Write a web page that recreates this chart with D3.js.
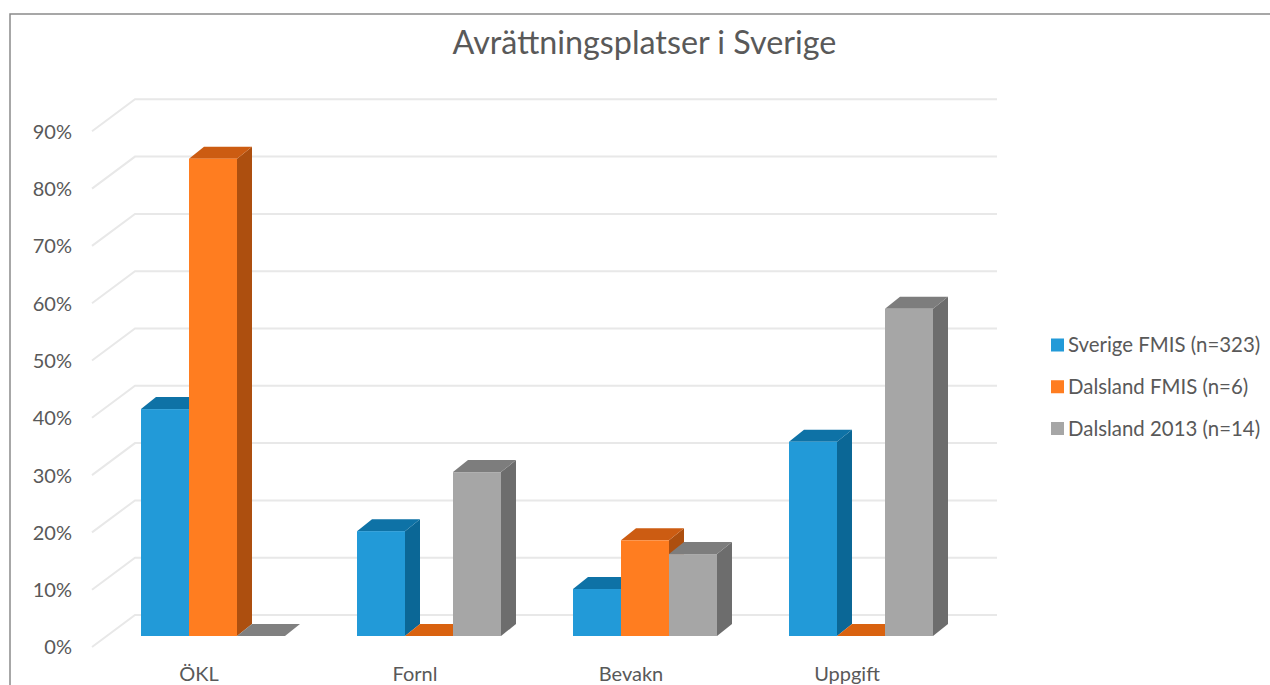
<!DOCTYPE html>
<html>
<head>
<meta charset="utf-8">
<script src="https://cdn.jsdelivr.net/npm/d3@7"></script>
<style>
  html, body { margin: 0; padding: 0; background: #fff; }
  svg { display: block; font-family: Lato, "Open Sans", sans-serif; }
</style>
</head>
<body>
<svg id="chart" width="1270" height="685"></svg>
<script>
const chartTitle = "Avrättningsplatser i Sverige";
const categories = ["ÖKL", "Fornl", "Bevakn", "Uppgift"];
const seriesNames = ["Sverige FMIS (n=323)", "Dalsland FMIS (n=6)", "Dalsland 2013 (n=14)"];
const sverigeFmis = [0.396, 0.183, 0.082, 0.339];
const dalslandFmis = [0.833, 0, 0.167, 0];
const dalsland2013 = [0, 0.286, 0.143, 0.571];
const tickValues = [0, 0.1, 0.2, 0.3, 0.4, 0.5, 0.6, 0.7, 0.8, 0.9];

const seriesValues = [sverigeFmis, dalslandFmis, dalsland2013];
const faceColors = [
  { front: "#229ad8", top: "#0e72a6", flat: "#0e72a6", side: "#0b6796" },
  { front: "#ff7d20", top: "#cc5c12", flat: "#d9620f", side: "#ad4f0f" },
  { front: "#a6a6a6", top: "#7d7d7d", flat: "#808080", side: "#6d6d6d" }
];

const svg = d3.select("#chart");

// Box depth of the bars and of the floor, as screen offsets.
const barDepth = { x: 15, y: -12 };
const wallDepth = { x: 43, y: -32 };
const unitHeight = 573; // pixels for 100 %

// One vertical scale per plane of the 3D scene.
const makeY = base => d3.scaleLinear().domain([0, 1]).range([base, base - unitHeight]);
const yBars = makeY(636);
const yWallFront = makeY(647);

const x0 = d3.scaleBand()
  .domain(categories)
  .range([105, 969])
  .paddingInner(1 / 3)
  .paddingOuter(1 / 6);
const x1 = d3.scaleBand()
  .domain(d3.range(seriesNames.length))
  .range([0, x0.bandwidth()]);

// Chart frame: the right and bottom edges run off the page.
svg.append("path")
  .attr("d", d3.line()([[10, 685], [10, 14], [1270, 14]]))
  .attr("fill", "none")
  .attr("stroke", "#8a8a8a")
  .attr("stroke-width", 1.5);

svg.append("text")
  .attr("x", 644.5)
  .attr("y", 54)
  .attr("text-anchor", "middle")
  .attr("font-size", 32.3)
  .attr("fill", "#595959")
  .text(chartTitle);

// Gridlines: a slanted piece on the side wall and a long one on the back wall.
const gridG = svg.append("g")
  .attr("fill", "none")
  .attr("stroke", "#e8e8e8")
  .attr("stroke-width", 2);
gridG.selectAll("path")
  .data(tickValues)
  .join("path")
  .attr("d", v => {
    const yw = yWallFront(v);
    return d3.line()([
      [92, yw],
      [92 + wallDepth.x, yw + wallDepth.y],
      [997, yw + wallDepth.y]
    ]);
  });

// Value axis
const yAxis = d3.axisLeft(yWallFront)
  .tickValues(tickValues)
  .tickFormat(d3.format(".0%"))
  .tickSize(0)
  .tickPadding(0);
const yAxisG = svg.append("g")
  .attr("transform", "translate(72,0.5)")
  .call(yAxis);
yAxisG.select(".domain").remove();
yAxisG.selectAll("text")
  .attr("font-size", 20)
  .attr("font-family", "Lato, sans-serif")
  .attr("fill", "#595959");

// Category axis
const xAxis = d3.axisBottom(x0).tickSize(0).tickPadding(0);
const xAxisG = svg.append("g")
  .attr("transform", "translate(-14,667)")
  .call(xAxis);
xAxisG.select(".domain").remove();
xAxisG.selectAll("text")
  .attr("font-size", 20)
  .attr("font-family", "Lato, sans-serif")
  .attr("fill", "#595959");

// Bars: series by series so later boxes overlap the earlier ones.
const bars = svg.append("g");
seriesValues.forEach((values, s) => {
  const colors = faceColors[s];
  const g = bars.append("g");
  categories.forEach((cat, c) => {
    const v = values[c];
    const xl = x0(cat) + x1(s);
    const xr = xl + x1.bandwidth();
    const yb = yBars(0);
    const yt = yBars(v);
    const dx = barDepth.x, dy = barDepth.y;
    const poly = pts => d3.line()(pts) + "Z";
    if (v > 0) {
      g.append("path")
        .attr("d", poly([[xr, yt], [xr + dx, yt + dy], [xr + dx, yb + dy], [xr, yb]]))
        .attr("fill", colors.side);
    }
    g.append("path")
      .attr("d", poly([[xl, yt], [xl + dx, yt + dy], [xr + dx, yt + dy], [xr, yt]]))
      .attr("fill", v > 0 ? colors.top : colors.flat);
    if (v > 0) {
      g.append("rect")
        .attr("x", xl)
        .attr("y", yt)
        .attr("width", xr - xl)
        .attr("height", yb - yt)
        .attr("fill", colors.front);
    }
  });
});

// Legend
const legendY = d3.scalePoint()
  .domain(seriesNames)
  .range([345, 428.5]);
const legend = svg.append("g");
const legendItems = legend.selectAll("g")
  .data(seriesNames)
  .join("g")
  .attr("transform", d => `translate(1051,${legendY(d)})`);
legendItems.append("rect")
  .attr("y", -6.5)
  .attr("width", 13)
  .attr("height", 13)
  .attr("fill", (d, i) => faceColors[i].front);
legendItems.append("text")
  .attr("x", 17)
  .attr("y", 7)
  .attr("font-size", 20.4)
  .attr("fill", "#595959")
  .text(d => d);
</script>
</body>
</html>
